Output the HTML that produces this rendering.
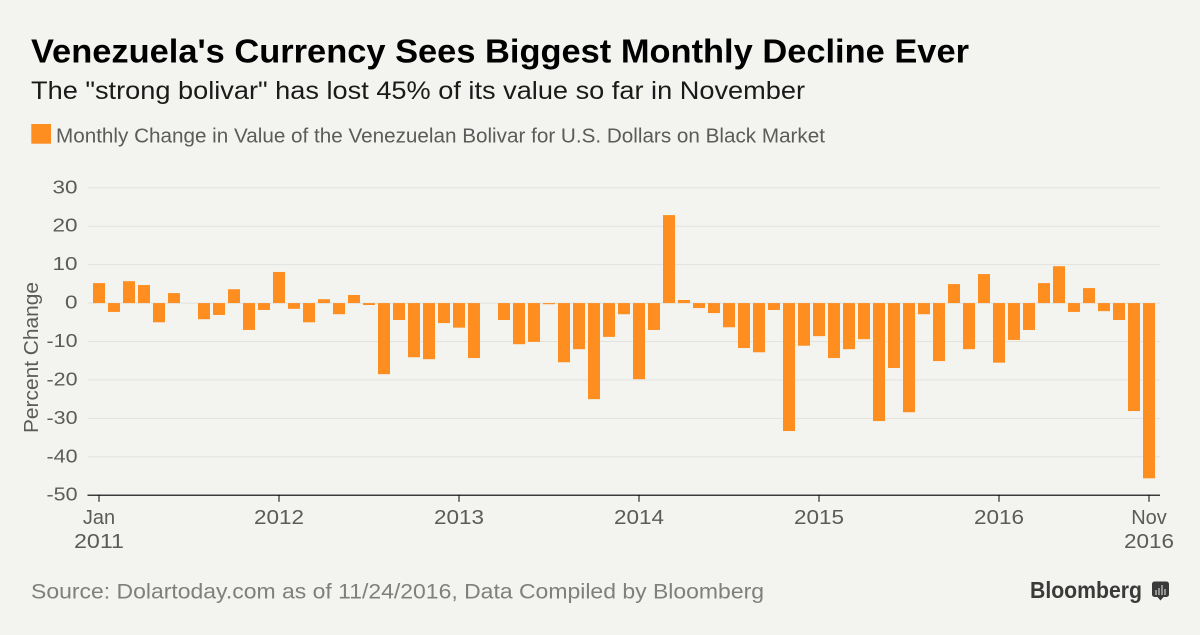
<!DOCTYPE html>
<html lang="en">
<head>
<meta charset="utf-8">
<title>Venezuela's Currency Sees Biggest Monthly Decline Ever</title>
<style>
html,body{margin:0;padding:0;background:#f3f3ef;}
body{width:1200px;height:635px;overflow:hidden;}
svg{display:block;font-family:"Liberation Sans",Arial,sans-serif;}
</style>
</head>
<body>
<svg id="chart" width="1200" height="635" viewBox="0 0 1200 635" xmlns="http://www.w3.org/2000/svg">
  <rect x="0" y="0" width="1200" height="635" fill="#f3f3ef"/>
  <text x="31" y="62.500" font-size="33.5" font-weight="700" fill="#000" textLength="938" lengthAdjust="spacingAndGlyphs">Venezuela's Currency Sees Biggest Monthly Decline Ever</text>
  <text x="31" y="99" font-size="25" fill="#1a1a1a" textLength="774" lengthAdjust="spacingAndGlyphs">The "strong bolivar" has lost 45% of its value so far in November</text>
  <rect x="31.300" y="124" width="19.700" height="19.700" fill="#ff8e21"/>
  <text x="56" y="142.300" font-size="20.5" fill="#5b5b5b" textLength="769" lengthAdjust="spacingAndGlyphs">Monthly Change in Value of the Venezuelan Bolivar for U.S. Dollars on Black Market</text>
  <g id="grid"></g>
  <g id="y-ticks"></g>
  <text transform="translate(38,357.5) rotate(-90)" text-anchor="middle" font-size="20" fill="#5b5b5b" textLength="151" lengthAdjust="spacingAndGlyphs">Percent Change</text>
  <g id="bars"></g>
  <g id="x-axis"></g>
  <text x="31" y="598.500" font-size="21" fill="#7f7f7c" textLength="733" lengthAdjust="spacingAndGlyphs">Source: Dolartoday.com as of 11/24/2016, Data Compiled by Bloomberg</text>
  <text x="1030" y="597.800" font-size="23" font-weight="700" fill="#3a3a3a" textLength="112" lengthAdjust="spacingAndGlyphs">Bloomberg</text>
  <g>
    <path d="M1154.500 581.500h12a2.500 2.500 0 0 1 2.500 2.500v10.500a2.500 2.500 0 0 1-2.500 2.500h-3l-3 3.500-3-3.500h-3a2.500 2.500 0 0 1-2.500-2.500v-10.500a2.500 2.500 0 0 1 2.500-2.500z" fill="#3a3a3a"/>
    <path d="M1156 590v5M1159 588v7M1162 585v10M1165 589v6" stroke="#a8a8a5" stroke-width="1.600" fill="none"/>
  </g>
</svg>
<script>
const categories = [
  '2011-01','2011-02','2011-03','2011-04','2011-05','2011-06','2011-07','2011-08','2011-09','2011-10','2011-11','2011-12',
  '2012-01','2012-02','2012-03','2012-04','2012-05','2012-06','2012-07','2012-08','2012-09','2012-10','2012-11','2012-12',
  '2013-01','2013-02','2013-03','2013-04','2013-05','2013-06','2013-07','2013-08','2013-09','2013-10','2013-11','2013-12',
  '2014-01','2014-02','2014-03','2014-04','2014-05','2014-06','2014-07','2014-08','2014-09','2014-10','2014-11','2014-12',
  '2015-01','2015-02','2015-03','2015-04','2015-05','2015-06','2015-07','2015-08','2015-09','2015-10','2015-11','2015-12',
  '2016-01','2016-02','2016-03','2016-04','2016-05','2016-06','2016-07','2016-08','2016-09','2016-10','2016-11'
];
const monthlyChange = [
  5.2,-2.3,5.7,4.7,-5,2.6,0,-4.2,-3.1,3.6,-7,-1.8,
  8.1,-1.5,-5,1,-2.9,2.1,-0.5,-18.5,-4.4,-14.1,-14.6,-5.2,
  -6.4,-14.3,0,-4.4,-10.7,-10.1,-0.3,-15.4,-12,-25,-8.8,-2.9,
  -19.8,-7,22.9,0.8,-1.3,-2.6,-6.3,-11.7,-12.8,-1.8,-33.3,-11.1,
  -8.6,-14.3,-12,-9.4,-30.7,-16.9,-28.4,-2.9,-15.1,4.95,-12,7.55,
  -15.5,-9.6,-7,5.2,9.6,-2.3,3.9,-2.1,-4.4,-28.1,-45.6
];
const yTicks = [30,20,10,0,-10,-20,-30,-40,-50];
const xTickCategories = ['2011-01','2012-01','2013-01','2014-01','2015-01','2016-01','2016-11'];
const xTickLine1 = ['Jan','2012','2013','2014','2015','2016','Nov'];
const xTickLine2 = ['2011','','','','','','2016'];

const SVGNS = 'http://www.w3.org/2000/svg';
const plotLeft = 88, plotRight = 1160, barWidth = 12;
const firstCenter = 99, lastCenter = 1149;
const yTop = 187.8, yBottom = 495.2, yMax = 30, yMin = -50;
const digitWidth = 12.5, minusWidth = 6;

function xScale(i) {
  return firstCenter + i * (lastCenter - firstCenter) / (categories.length - 1);
}
function yScale(v) {
  return yTop + (yMax - v) * (yBottom - yTop) / (yMax - yMin);
}
function make(tag, attrs, parent) {
  const el = document.createElementNS(SVGNS, tag);
  for (const k in attrs) el.setAttribute(k, attrs[k]);
  parent.appendChild(el);
  return el;
}
function numberWidth(s) {
  let w = 0;
  for (const ch of s) w += ch === '-' ? minusWidth : digitWidth;
  return w;
}

const gridG = document.getElementById('grid');
const yTickG = document.getElementById('y-ticks');
yTicks.forEach(function (t) {
  if (t !== yMin) {
    const line = make('line', {x1: plotLeft, x2: plotRight, y1: yScale(t), y2: yScale(t), stroke: '#e2e2df', 'stroke-width': 1}, gridG);
    
    
  }
  const s = String(t);
  const label = make('text', {x: 77.5, y: yScale(t) + 5.5, 'text-anchor': 'end', 'font-size': 18, fill: '#5b5b5b', textLength: numberWidth(s), lengthAdjust: 'spacingAndGlyphs'}, yTickG);
  
  
  label.textContent = s;
});

const barsG = document.getElementById('bars');
monthlyChange.forEach(function (v, i) {
  if (!v) return;
  const y0 = yScale(0), y1 = yScale(v);
  const bar = make('rect', {
    x: xScale(i) - barWidth / 2,
    y: Math.min(y0, y1),
    width: barWidth,
    height: Math.abs(y1 - y0),
    fill: '#ff8e21'
  }, barsG);
  
  
});

function xLabelAttrs(cx, y, s) {
  const a = {x: cx, y: y, 'text-anchor': 'middle', 'font-size': 20, fill: '#5b5b5b'};
  if (/^\d+$/.test(s)) {
    a.textLength = numberWidth(s);
    a.lengthAdjust = 'spacingAndGlyphs';
  }
  return a;
}

const xG = document.getElementById('x-axis');
const axisY = yScale(yMin);
const axisLine = make('line', {x1: plotLeft - 0.5, x2: plotRight, y1: axisY, y2: axisY, stroke: '#000', 'stroke-width': 1.2}, xG);


xTickCategories.forEach(function (c, j) {
  const cx = xScale(categories.indexOf(c));
  const tick = make('line', {x1: cx, x2: cx, y1: axisY, y2: axisY + 6.5, stroke: '#000', 'stroke-width': 1}, xG);
  
  
  const top = make('text', xLabelAttrs(cx, 524, xTickLine1[j]), xG);
  
  
  top.textContent = xTickLine1[j];
  if (xTickLine2[j]) {
    const bottom = make('text', xLabelAttrs(cx, 548, xTickLine2[j]), xG);
    
    
    bottom.textContent = xTickLine2[j];
  }
});
</script>
</body>
</html>
